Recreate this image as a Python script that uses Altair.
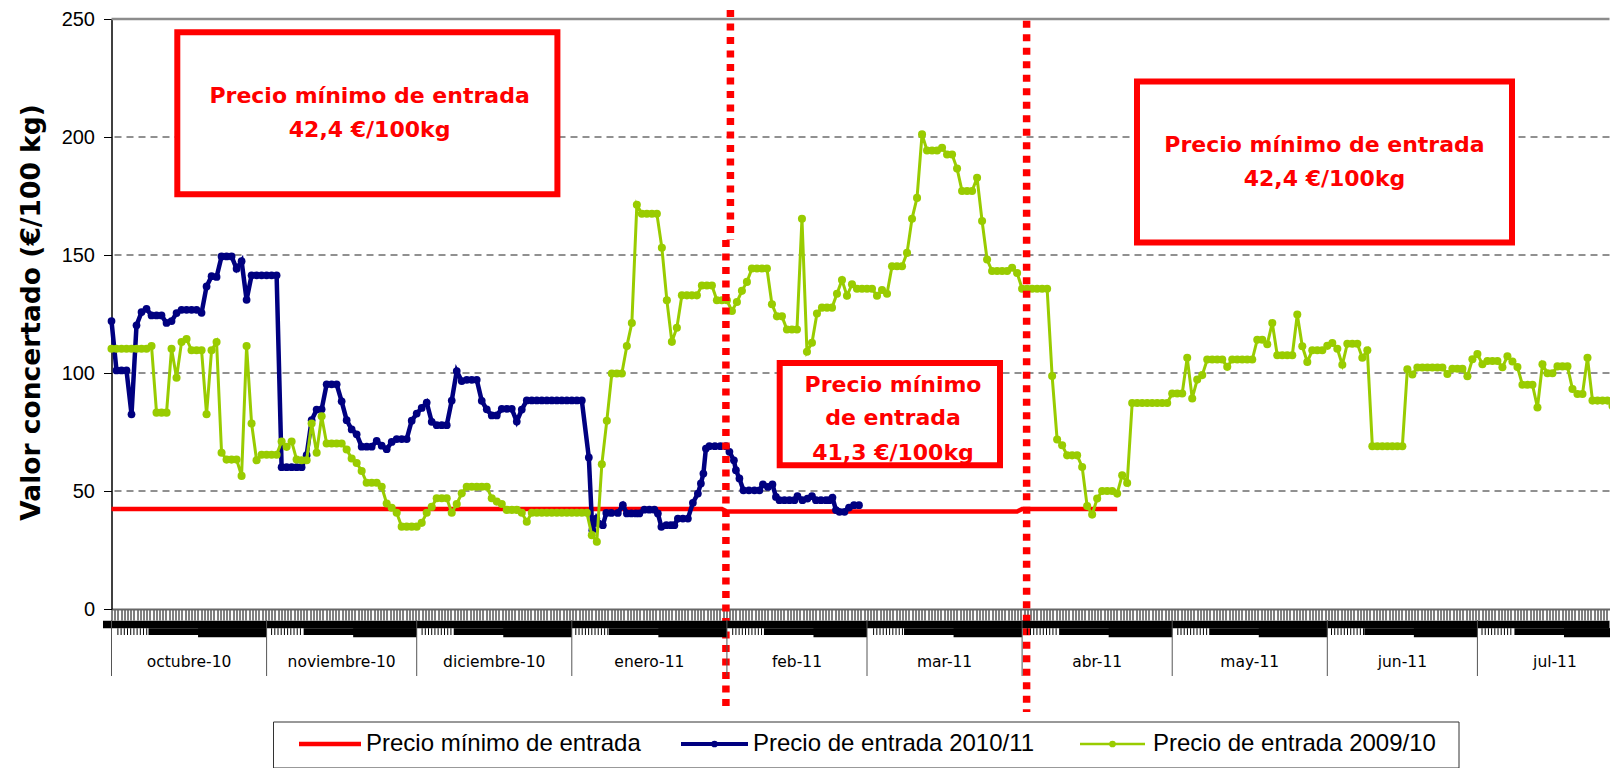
import altair as alt
import pandas as pd

# ---------------- data ----------------
series_names = ["Precio mínimo de entrada", "Precio de entrada 2010/11", "Precio de entrada 2009/10"]
series_colors = ["#FF0000", "#000080", "#99CC00"]

months = ["octubre-10", "noviembre-10", "diciembre-10", "enero-11", "feb-11",
          "mar-11", "abr-11", "may-11", "jun-11", "jul-11"]
month_start = [0, 31, 61, 92, 123, 151, 182, 212, 243, 273]
month_end = [31, 61, 92, 123, 151, 182, 212, 243, 273, 304]

# minimum entry price (day index from 1 Oct 2010)
min_day = [0, 122, 123, 181, 182, 201]
min_val = [42.4, 42.4, 41.3, 41.3, 42.4, 42.4]

# 2010/11 entry price
blue_day = list(range(0, 95)) + [
    95.4, 96.1, 96.9, 97.4, 98.2, 98.9, 99.9, 101.2, 102.2, 103.0,
    103.9, 104.8, 105.5, 106.5, 107.5, 108.5, 109.2, 109.9, 110.9, 111.8,
    112.5, 113.2, 114.2, 115.2, 116.2, 117.2, 117.8, 118.3, 118.8, 119.5,
    120.6, 121.7, 122.8, 123.5, 124.4, 124.8, 125.5, 126.3, 127.4, 128.5,
    129.5, 130.2, 131.2, 132.1, 132.8, 133.5, 134.5, 135.5, 136.5, 137.1,
    138.1, 139.1, 140.0, 140.8, 141.8, 142.8, 143.5, 144.1, 144.8, 145.5,
    146.5, 147.4, 148.4, 149.4]
blue_val = [
    122.0, 101.1, 101.1, 101.1, 82.5, 120.2, 125.8, 127.2, 124.4, 124.4,
    124.4, 121.2, 122.0, 125.4, 126.8, 126.8, 126.8, 126.8, 125.5, 136.7,
    141.0, 140.7, 149.4, 149.4, 149.4, 144.2, 147.4, 131.0, 141.4, 141.4,
    141.4, 141.4, 141.4, 141.4, 60.1, 60.1, 60.1, 60.1, 60.1, 65.2,
    80.0, 84.5, 84.6, 95.2, 95.2, 95.2, 88.0, 80.0, 76.1, 74.0,
    68.8, 68.8, 68.8, 71.2, 69.2, 67.7, 70.8, 72.0, 72.0, 72.0,
    79.8, 82.8, 85.2, 87.5, 79.3, 77.9, 77.9, 77.9, 88.3, 100.8,
    96.6, 97.1, 97.1, 97.1, 88.2, 84.6, 82.0, 82.0, 84.8, 84.8,
    84.8, 79.4, 84.5, 88.4, 88.4, 88.4, 88.4, 88.4, 88.4, 88.4,
    88.4, 88.4, 88.4, 88.4, 88.4,
    64.2, 33.4, 38.3, 36.2, 35.5, 40.7, 40.7, 40.7, 44.0, 40.5,
    40.5, 40.5, 40.5, 42.1, 42.1, 42.1, 40.5, 34.8, 35.5, 35.5,
    35.5, 38.3, 38.3, 38.3, 45.0, 48.9, 53.2, 57.4, 68.0, 69.0,
    69.0, 69.0, 69.0, 66.6, 63.0, 58.8, 55.3, 50.3, 50.3, 50.3,
    50.3, 52.8, 51.7, 52.8, 47.5, 46.1, 46.1, 46.1, 46.1, 47.8,
    46.1, 46.8, 47.8, 46.1, 46.1, 46.1, 46.1, 47.2, 41.9, 41.2,
    41.2, 43.0, 44.0, 44.0]

# 2009/10 entry price (one value per day, day 0 = 1 Oct)
green_day = list(range(0, 302))
green_val = [
    110.3, 110.3, 110.3, 110.3, 110.3, 110.3, 110.3, 110.3, 111.4, 83.2,
    83.2, 83.2, 110.3, 98.0, 113.1, 114.4, 109.6, 109.6, 109.6, 82.5,
    109.6, 113.1, 66.2, 63.3, 63.3, 63.3, 56.4, 111.4, 78.6, 63.0,
    65.4, 65.4, 65.4, 65.4, 71.0, 68.7, 71.0, 63.3, 63.0, 63.0,
    78.6, 66.2, 81.7, 70.1, 70.1, 70.1, 70.1, 67.6, 63.8, 61.9,
    58.5, 53.5, 53.5, 53.5, 51.8, 44.7, 42.9, 40.8, 34.9, 34.9,
    34.9, 34.9, 36.5, 40.8, 43.3, 46.9, 46.9, 46.9, 40.8, 44.5,
    49.0, 51.8, 51.8, 51.8, 51.8, 51.8, 46.9, 45.5, 44.5, 42.0,
    42.0, 42.0, 40.8, 37.0, 40.8, 40.8, 40.8, 40.8, 40.8, 40.8,
    40.8, 40.8, 40.8, 40.8, 40.8, 40.8, 31.3, 28.5, 61.3, 79.8,
    99.8, 99.8, 99.8, 111.4, 121.2, 171.3, 167.5, 167.5, 167.5, 167.5,
    153.1, 130.8, 113.2, 119.2, 132.9, 132.9, 132.9, 132.9, 137.1, 137.1,
    137.1, 130.8, 130.8, 130.8, 126.3, 130.1, 134.8, 138.6, 144.3, 144.3,
    144.3, 144.3, 129.1, 124.0, 124.0, 118.4, 118.4, 118.4, 165.4, 109.0,
    112.8, 125.2, 127.7, 127.7, 127.7, 133.6, 139.4, 132.7, 137.6, 135.7,
    135.7, 135.7, 135.7, 132.7, 135.2, 133.6, 145.2, 145.2, 145.2, 150.9,
    165.4, 174.2, 201.1, 194.3, 194.3, 194.3, 195.4, 192.6, 192.6, 186.6,
    177.1, 177.1, 177.1, 182.7, 164.4, 148.1, 143.2, 143.2, 143.2, 143.2,
    144.6, 142.4, 135.7, 135.7, 135.7, 135.7, 135.7, 135.7, 98.7, 71.8,
    69.4, 65.1, 65.1, 65.1, 60.2, 43.6, 40.0, 46.8, 50.0, 50.0,
    50.0, 48.9, 56.7, 53.4, 87.3, 87.3, 87.3, 87.3, 87.3, 87.3,
    87.3, 87.3, 91.3, 91.3, 91.3, 106.5, 89.2, 97.2, 99.1, 105.7,
    105.7, 105.7, 105.7, 102.6, 105.7, 105.7, 105.7, 105.7, 105.7, 114.1,
    114.1, 112.2, 121.2, 107.5, 107.5, 107.5, 107.5, 124.8, 111.3, 104.7,
    109.6, 109.6, 109.6, 111.5, 112.7, 110.3, 103.5, 112.4, 112.4, 112.4,
    106.5, 109.6, 69.0, 69.0, 69.0, 69.0, 69.0, 69.0, 69.0, 101.6,
    99.4, 102.3, 102.3, 102.3, 102.3, 102.3, 102.3, 99.6, 101.8, 101.8,
    101.8, 98.6, 105.8, 108.0, 103.7, 105.1, 105.1, 105.1, 102.4, 107.1,
    104.9, 102.5, 95.0, 95.0, 95.0, 85.4, 103.7, 99.9, 99.9, 102.8,
    102.8, 102.8, 93.2, 91.1, 91.1, 106.5, 88.3, 88.3, 88.3, 88.3,
    86.0, 106.6]

y_ticks = [0, 50, 100, 150, 200, 250]
grid_vals = [50, 100, 150, 200]
box1_lines = ["Precio mínimo de entrada", "42,4 €/100kg"]
box2_lines = ["Precio mínimo de entrada", "42,4 €/100kg"]
box3_lines = ["Precio mínimo", "de entrada", "41,3 €/100kg"]
period_change = [123.7, 122.8, 182.9]   # dotted separators (Feb 1 / Apr 1)

# ---------------- layout ----------------
W, H = 1498, 590
X_MAX = 299.4
xs = alt.Scale(domain=[0, X_MAX], nice=False, zero=False)
ys = alt.Scale(domain=[0, 250], nice=False, zero=True)
one = pd.DataFrame({"k": [0]})

axis_ticks = [round(i * 0.64, 2) for i in range(int(X_MAX / 0.64) + 1)]

min_df = pd.DataFrame({"d": min_day, "v": min_val})
blue_df = pd.DataFrame({"d": blue_day, "v": blue_val})
green_df = pd.DataFrame({"d": green_day, "v": green_val})
grid_df = pd.DataFrame({"v": grid_vals})
mon_df = pd.DataFrame({"m": months, "s": month_start, "e": month_end})
mon_df["mid"] = (mon_df["s"] + mon_df["e"]) / 2
mon_df["b1"] = mon_df["s"] + 7.4
mon_df["b2"] = mon_df["s"] + 17.3
small_ticks = pd.DataFrame({"d": [t for t in axis_ticks
                                  if any(s + 0.7 <= t <= s + 7.3 for s in month_start)]})

x_axis = alt.Axis(values=axis_ticks, labels=False, ticks=True, tickSize=11,
                  tickColor="black", tickWidth=1, domainColor="#666666",
                  domainWidth=2, grid=False, title=None)
y_axis = alt.Axis(values=y_ticks, grid=False, tickSize=8, tickColor="black",
                  domainColor="black", domainWidth=1.5,
                  labelFont="Liberation Sans", labelFontSize=20, labelColor="black",
                  labelPadding=9,
                  title="Valor concertado (€/100 kg)", titleFont="DejaVu Sans",
                  titleFontSize=26.5, titleFontWeight="bold", titleColor="black",
                  titleX=-80.5, titleY=293, titleAngle=270, titleAlign="center",
                  titleBaseline="middle")


def X(field):
    return alt.X(field, type="quantitative", scale=xs, axis=x_axis)


def Y(field):
    return alt.Y(field, type="quantitative", scale=ys, axis=y_axis)


layers = []

# gridlines and top border
layers.append(alt.Chart(grid_df).mark_rule(color="#222222", strokeWidth=1, strokeDash=[7, 5])
              .encode(y=Y("v")))
layers.append(alt.Chart(one).mark_rule(color="#8c8c8c", strokeWidth=2.5)
              .encode(y=alt.datum(250, scale=ys, axis=y_axis)))

# series
layers.append(alt.Chart(min_df).mark_line(color=series_colors[0], strokeWidth=4.5)
              .encode(x=X("d"), y=Y("v")))
layers.append(alt.Chart(blue_df).mark_line(
    color=series_colors[1], strokeWidth=4.5,
    point=alt.OverlayMarkDef(filled=True, size=60, color=series_colors[1]))
    .encode(x=X("d"), y=Y("v")))
layers.append(alt.Chart(green_df).mark_line(
    color=series_colors[2], strokeWidth=3,
    point=alt.OverlayMarkDef(filled=True, size=65, color=series_colors[2]))
    .encode(x=X("d"), y=Y("v")))


# annotation boxes (white filled, red border)
def box(x1, x2, y1, y2):
    return alt.Chart(one).mark_rect(fill="white", stroke="#FF0000", strokeWidth=6).encode(
        x=alt.value(x1), x2=alt.value(x2), y=alt.value(y1), y2=alt.value(y2))


def red_text(t, x, y):
    return alt.Chart(one).mark_text(font="DejaVu Sans", fontSize=22, fontWeight="bold",
                                    color="#FF0000", align="center", baseline="alphabetic").encode(
        x=alt.value(x), y=alt.value(y), text=alt.value(t))


layers.append(box(65.8, 445.9, 13.3, 175.3))
layers.append(red_text(box1_lines[0], 258.1, 84.3))
layers.append(red_text(box1_lines[1], 258.1, 118.3))
layers.append(box(1025.5, 1400.5, 62.4, 223.6))
layers.append(red_text(box2_lines[0], 1213, 133.4))
layers.append(red_text(box2_lines[1], 1213, 167.4))
layers.append(box(668.2, 888.5, 344, 446.3))
layers.append(red_text(box3_lines[0], 781.5, 372.7))
layers.append(red_text(box3_lines[1], 781.5, 406))
layers.append(red_text(box3_lines[2], 781.5, 441))

# dotted period separators
dot = dict(color="#FF0000", strokeWidth=7.5, strokeDash=[7, 6.5])
layers.append(alt.Chart(one).mark_rule(**dot).encode(
    x=alt.datum(period_change[0], scale=xs, axis=x_axis), y=alt.value(-9), y2=alt.value(221)))
layers.append(alt.Chart(one).mark_rule(**dot).encode(
    x=alt.datum(period_change[1], scale=xs, axis=x_axis), y=alt.value(221), y2=alt.value(693)))
layers.append(alt.Chart(one).mark_rule(**dot).encode(
    x=alt.datum(period_change[2], scale=xs, axis=x_axis), y=alt.value(1.7), y2=alt.value(693)))

# category axis decoration under the plot
layers.append(alt.Chart(one).mark_rect(color="black").encode(
    x=alt.datum(-1.7, scale=xs, axis=x_axis), x2=alt.datum(X_MAX),
    y=alt.value(601.7), y2=alt.value(609.3)))
layers.append(alt.Chart(mon_df).mark_rect(color="black").encode(
    x=X("b1"), x2="e:Q", y=alt.value(609.3), y2=alt.value(616)))
layers.append(alt.Chart(mon_df).mark_rect(color="black").encode(
    x=X("b2"), x2="e:Q", y=alt.value(609.3), y2=alt.value(618.3)))
layers.append(alt.Chart(small_ticks).mark_rule(color="black", strokeWidth=1).encode(
    x=X("d"), y=alt.value(609.3), y2=alt.value(616)))
layers.append(alt.Chart(mon_df).mark_rule(color="#555555", strokeWidth=1).encode(
    x=X("s"), y=alt.value(601), y2=alt.value(657)))
layers.append(alt.Chart(mon_df).mark_text(font="DejaVu Sans", fontSize=15.5, color="black",
                                          align="center", baseline="middle").encode(
    x=X("mid"), y=alt.value(642.5), text="m:N"))

# legend
layers.append(alt.Chart(one).mark_rect(fill="white", stroke="#333333", strokeWidth=1).encode(
    x=alt.value(162), x2=alt.value(1347.5), y=alt.value(703), y2=alt.value(749)))
leg_sym = [(187.5, 249.5, 4.5, False), (569.5, 636.5, 4, True), (968.5, 1033.5, 2.5, True)]
leg_text_x = [254.5, 641.5, 1041.5]
LEG_Y = 725
for i, (a, b, w, has_dot) in enumerate(leg_sym):
    layers.append(alt.Chart(one).mark_rule(color=series_colors[i], strokeWidth=w).encode(
        x=alt.value(a), x2=alt.value(b), y=alt.value(LEG_Y)))
    if has_dot:
        layers.append(alt.Chart(one).mark_circle(color=series_colors[i], size=45, opacity=1).encode(
            x=alt.value((a + b) / 2), y=alt.value(LEG_Y)))
    layers.append(alt.Chart(one).mark_text(font="Liberation Sans", fontSize=24, color="black",
                                           align="left", baseline="middle").encode(
        x=alt.value(leg_text_x[i]), y=alt.value(LEG_Y), text=alt.value(series_names[i])))

chart = alt.layer(*layers).properties(
    width=W, height=H,
    padding={"left": 103.5, "top": 11, "right": 0, "bottom": 159},
    autosize=alt.AutoSizeParams(type="none"),
    background="white",
).configure_view(stroke=None)

chart.save("out.html", embed_options={"renderer": "svg", "actions": False})
